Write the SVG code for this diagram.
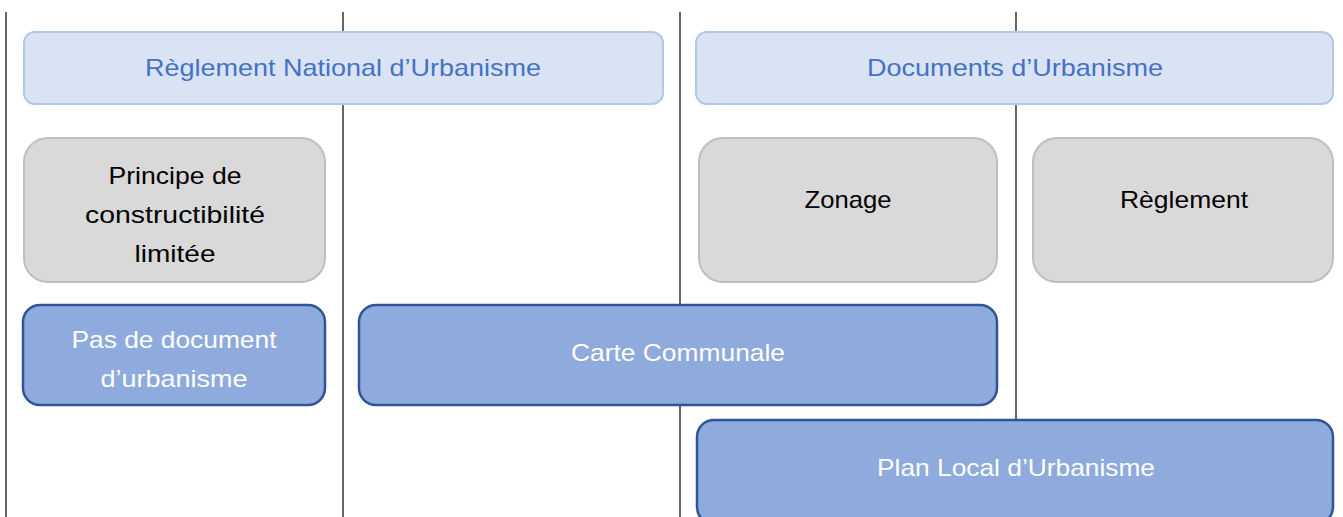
<svg xmlns="http://www.w3.org/2000/svg" width="1343" height="517" viewBox="0 0 1343 517">
<style>
.light{fill:#DAE3F3;stroke:#B4C7E7;stroke-width:2}
.gray{fill:#D9D9D9;stroke:#BFBFBF;stroke-width:2}
.dark{fill:#8FAADC;stroke:#2F5597;stroke-width:2.5}
text{font-family:"Liberation Sans","Open Sans",sans-serif;font-size:24px;text-anchor:middle}
.tl{fill:#4472C4}
.tg{fill:#000000}
.td{fill:#FFFFFF}
.sep{stroke:#000000;stroke-width:1.2}
</style>
<rect width="1343" height="517" fill="#FFFFFF"/>
<g id="connectors">
<line class="sep" x1="6" y1="12" x2="6" y2="517"/>
<line class="sep" x1="343" y1="12" x2="343" y2="517"/>
<line class="sep" x1="680" y1="12" x2="680" y2="517"/>
<line class="sep" x1="1016" y1="12" x2="1016" y2="517"/>
</g>
<g id="rnu">
<rect class="light" x="24" y="32" width="639" height="72" rx="11"/>
<text class="tl" x="343" y="76" textLength="396" lengthAdjust="spacingAndGlyphs">Règlement National d’Urbanisme</text>
</g>
<g id="docs">
<rect class="light" x="696" y="32" width="637" height="72" rx="11"/>
<text class="tl" x="1015" y="76" textLength="296" lengthAdjust="spacingAndGlyphs">Documents d’Urbanisme</text>
</g>
<g id="principe">
<rect class="gray" x="24" y="138" width="301" height="144" rx="24"/>
<text class="tg" x="175" y="184" textLength="133" lengthAdjust="spacingAndGlyphs">Principe de</text>
<text class="tg" x="175" y="223" textLength="180" lengthAdjust="spacingAndGlyphs">constructibilité</text>
<text class="tg" x="175" y="262" textLength="81" lengthAdjust="spacingAndGlyphs">limitée</text>
</g>
<g id="zonage">
<rect class="gray" x="699" y="138" width="298" height="144" rx="24"/>
<text class="tg" x="848" y="208" textLength="87" lengthAdjust="spacingAndGlyphs">Zonage</text>
</g>
<g id="reglement">
<rect class="gray" x="1033" y="138" width="300" height="144" rx="24"/>
<text class="tg" x="1184" y="208" textLength="128" lengthAdjust="spacingAndGlyphs">Règlement</text>
</g>
<g id="pasdoc">
<rect class="dark" x="23" y="305" width="302" height="100" rx="17"/>
<text class="td" x="174" y="348" textLength="205" lengthAdjust="spacingAndGlyphs">Pas de document</text>
<text class="td" x="174" y="387" textLength="147" lengthAdjust="spacingAndGlyphs">d’urbanisme</text>
</g>
<g id="carte">
<rect class="dark" x="359" y="305" width="638" height="100" rx="17"/>
<text class="td" x="678" y="361" textLength="214" lengthAdjust="spacingAndGlyphs">Carte Communale</text>
</g>
<g id="plu">
<rect class="dark" x="697" y="420" width="636" height="104" rx="17"/>
<text class="td" x="1016" y="476" textLength="278" lengthAdjust="spacingAndGlyphs">Plan Local d’Urbanisme</text>
</g>
</svg>
